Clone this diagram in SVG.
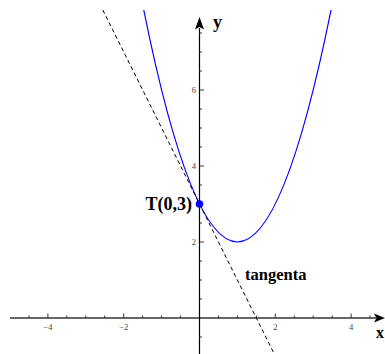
<svg xmlns="http://www.w3.org/2000/svg" width="385" height="354" viewBox="0 0 385 354">
<style>
.tick{stroke:#333;stroke-width:1}
.tl{font-family:"Liberation Serif",serif;font-size:8.5px;fill:#444}
.lab{font-family:"Liberation Serif",serif;font-weight:bold;fill:#000}
</style>
<defs>
<clipPath id="plot"><rect x="0" y="10" width="385" height="344"/></clipPath>
</defs>
<rect width="385" height="354" fill="#fff"/>
<g id="axes">
<line x1="10" y1="318" x2="376" y2="318" stroke="#666" stroke-width="1.8"/>
<path d="M385,318 L374,313.5 L376.5,318 L374,322.5 Z" fill="#000"/>
<line x1="199.5" y1="354" x2="199.5" y2="28" stroke="#000" stroke-width="1.2"/>
<path d="M199.5,17 L195,29.5 L199.5,27 L204,29.5 Z" fill="#000"/>
<g class="tick">
<line x1="29" y1="318" x2="29" y2="315.5"/>
<line x1="47.9" y1="318" x2="47.9" y2="313.5"/>
<line x1="66.8" y1="318" x2="66.8" y2="315.5"/>
<line x1="85.8" y1="318" x2="85.8" y2="315.5"/>
<line x1="104.7" y1="318" x2="104.7" y2="315.5"/>
<line x1="123.7" y1="318" x2="123.7" y2="313.5"/>
<line x1="142.6" y1="318" x2="142.6" y2="315.5"/>
<line x1="161.6" y1="318" x2="161.6" y2="315.5"/>
<line x1="180.5" y1="318" x2="180.5" y2="315.5"/>
<line x1="218.5" y1="318" x2="218.5" y2="315.5"/>
<line x1="237.4" y1="318" x2="237.4" y2="315.5"/>
<line x1="256.4" y1="318" x2="256.4" y2="315.5"/>
<line x1="275.3" y1="318" x2="275.3" y2="313.5"/>
<line x1="294.3" y1="318" x2="294.3" y2="315.5"/>
<line x1="313.2" y1="318" x2="313.2" y2="315.5"/>
<line x1="332.2" y1="318" x2="332.2" y2="315.5"/>
<line x1="351.1" y1="318" x2="351.1" y2="313.5"/>
<line x1="370" y1="318" x2="370" y2="315.5"/>
<line x1="199.5" y1="337" x2="202" y2="337"/>
<line x1="199.5" y1="299" x2="202" y2="299"/>
<line x1="199.5" y1="280" x2="202" y2="280"/>
<line x1="199.5" y1="261" x2="202" y2="261"/>
<line x1="199.5" y1="242" x2="204" y2="242"/>
<line x1="199.5" y1="223" x2="202" y2="223"/>
<line x1="199.5" y1="204" x2="202" y2="204"/>
<line x1="199.5" y1="185" x2="202" y2="185"/>
<line x1="199.5" y1="166" x2="204" y2="166"/>
<line x1="199.5" y1="147" x2="202" y2="147"/>
<line x1="199.5" y1="128" x2="202" y2="128"/>
<line x1="199.5" y1="109" x2="202" y2="109"/>
<line x1="199.5" y1="90" x2="204" y2="90"/>
<line x1="199.5" y1="71" x2="202" y2="71"/>
<line x1="199.5" y1="52" x2="202" y2="52"/>
<line x1="199.5" y1="33" x2="202" y2="33"/>
</g>
<g class="tl" text-anchor="middle">
<text x="47.9" y="330">−4</text>
<text x="123.7" y="330">−2</text>
<text x="275.3" y="330">2</text>
<text x="351.1" y="330">4</text>
</g>
<g class="tl" text-anchor="end">
<text x="196" y="245">2</text>
<text x="196" y="169">4</text>
<text x="196" y="93">6</text>
</g>
<text class="lab" x="376" y="337.7" font-size="16">x</text>
<text class="lab" x="213" y="28.2" font-size="18">y</text>
</g>
<g id="connectors" clip-path="url(#plot)">
<path id="parabola" d="M143.75,10 Q237.4,474 331.05,10" fill="none" stroke="#0000ff" stroke-width="1.2"/>
<line id="tangent" x1="102.8" y1="10" x2="274.3" y2="354" stroke="#000" stroke-width="1" stroke-dasharray="4,3"/>
</g>
<g id="pointT">
<circle cx="199.5" cy="204" r="3.8" fill="#0000ff"/>
<text class="lab" x="192" y="209.5" font-size="18" text-anchor="end">T(0,3)</text>
</g>
<g id="label-tangenta">
<text class="lab" x="245" y="280" font-size="16.5">tangenta</text>
</g>
</svg>
